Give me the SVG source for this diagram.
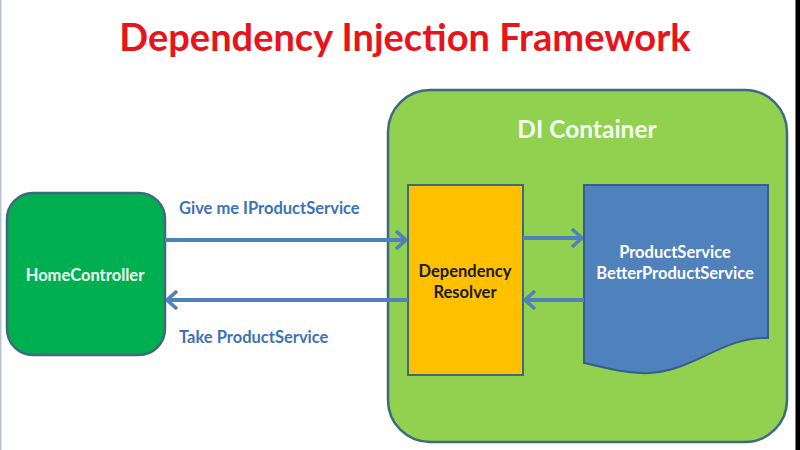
<svg xmlns="http://www.w3.org/2000/svg" width="800" height="450" viewBox="0 0 800 450">
<defs>
<marker id="chev" viewBox="0 0 12 20" refX="11" refY="10" markerWidth="12" markerHeight="20" markerUnits="userSpaceOnUse" orient="auto">
<path d="M1,1 L11,10 L1,19" fill="none" stroke="#4F81BD" stroke-width="3.5" stroke-linejoin="miter"/>
</marker>
</defs>
<style>
.lbl{font-family:Lato,"Liberation Sans",sans-serif;font-weight:bold;font-size:16.5px}
.conn{stroke:#4F81BD;stroke-width:4;fill:none;marker-end:url(#chev)}
</style>
<rect x="0" y="0" width="800" height="450" fill="#ffffff"/>
<rect x="0" y="0" width="1.5" height="450" fill="#b8c4cc"/>
<rect x="795.5" y="0" width="4.5" height="450" fill="#000000"/>
<text x="405" y="51" text-anchor="middle" font-family="Lato,'Liberation Sans',sans-serif" font-weight="bold" font-size="38" fill="#E8141B">Dependency Injection Framework</text>
<g id="container">
<rect x="388" y="90" width="399" height="352" rx="42" ry="42" fill="#92D050" stroke="#3E6A80" stroke-width="2.5"/>
<text x="587" y="138" text-anchor="middle" font-family="Lato,'Liberation Sans',sans-serif" font-weight="bold" font-size="24.5" fill="#F2FFF0">DI Container</text>
</g>
<g id="homecontroller">
<rect x="7" y="193" width="158" height="162" rx="26" ry="26" fill="#00B050" stroke="#3E6A80" stroke-width="2.5"/>
<text class="lbl" x="85" y="281" text-anchor="middle" fill="#EFFFF0">HomeController</text>
</g>
<g id="resolver">
<rect x="408" y="185" width="115" height="190" fill="#FFC000" stroke="#3E6A80" stroke-width="2"/>
<text class="lbl" x="465" y="277" text-anchor="middle" fill="#1a1a1a">Dependency</text>
<text class="lbl" x="465" y="298" text-anchor="middle" fill="#1a1a1a">Resolver</text>
</g>
<g id="services">
<path d="M584,185 L768,185 L768,338 C720,336 690,376 640,373 C615,372 600,366 584,363 Z" fill="#4F81BD" stroke="#385D8A" stroke-width="2"/>
<text class="lbl" x="675" y="258" text-anchor="middle" fill="#ffffff">ProductService</text>
<text class="lbl" x="675" y="279" text-anchor="middle" fill="#ffffff">BetterProductService</text>
</g>
<g id="connectors">
<line class="conn" x1="165" y1="240" x2="406" y2="240"/>
<line class="conn" x1="408" y1="300" x2="167" y2="300"/>
<line class="conn" x1="523" y1="238" x2="582" y2="238"/>
<line class="conn" x1="584" y1="300" x2="525" y2="300"/>
<text class="lbl" x="179" y="214" fill="#3C72B5">Give me IProductService</text>
<text class="lbl" x="179" y="343" fill="#3C72B5">Take ProductService</text>
</g>
</svg>
